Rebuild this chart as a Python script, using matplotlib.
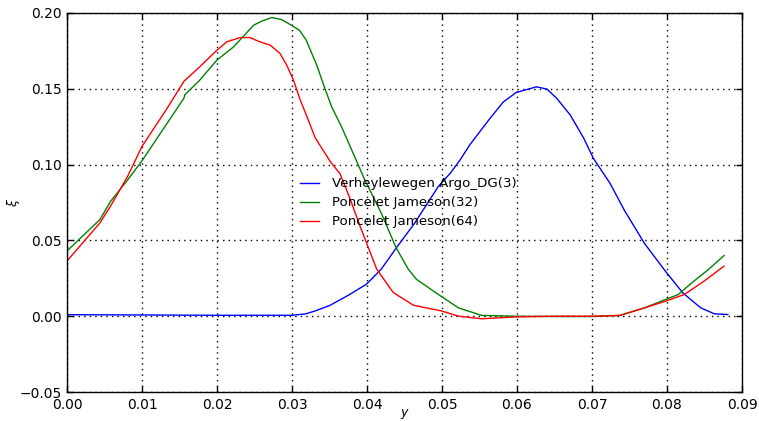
import matplotlib
matplotlib.use("Agg")
import matplotlib.pyplot as plt

# Verheylewegen Argo_DG(3)
blue_x = [0, 0.01, 0.02, 0.03, 0.0318, 0.0331, 0.035, 0.0375, 0.0399, 0.0419, 0.0439, 0.0463,
          0.0495, 0.0511, 0.0524, 0.0537, 0.0564, 0.0582, 0.0599, 0.0610, 0.0626, 0.0640,
          0.0653, 0.0671, 0.0689, 0.0702, 0.0724, 0.0743, 0.0770, 0.0798, 0.0821, 0.0845,
          0.0863, 0.0881]
blue_y = [0.001, 0.0008, 0.0006, 0.0006, 0.0015, 0.0035, 0.007, 0.0138, 0.021, 0.031, 0.045, 0.061,
          0.0855, 0.0943, 0.103, 0.113, 0.1305, 0.1414, 0.1476, 0.1491, 0.1513, 0.1498,
          0.1437, 0.1327, 0.1174, 0.104, 0.0877, 0.070, 0.048, 0.0296, 0.0154, 0.0055,
          0.0016, 0.0011]

# Poncelet Jameson(32)
green_x = [0, 0.0044, 0.0058, 0.0081, 0.01, 0.0156, 0.0157, 0.0177, 0.0200, 0.0222, 0.0249,
           0.0260, 0.0273, 0.0286, 0.0299, 0.0310, 0.0319, 0.0333, 0.0344, 0.0353, 0.0366,
           0.0397, 0.0419, 0.0439, 0.0455, 0.0466, 0.0498, 0.0522, 0.0553, 0.0597, 0.065,
           0.07, 0.0737, 0.077, 0.0798, 0.0815, 0.0833, 0.0855, 0.0876]
green_y = [0.043, 0.0638, 0.0757, 0.0900, 0.1025, 0.1439, 0.146, 0.1557, 0.169, 0.1776, 0.192,
           0.1947, 0.197, 0.1957, 0.192, 0.1886, 0.182, 0.1656, 0.150, 0.138, 0.125,
           0.090, 0.068, 0.045, 0.031, 0.0243, 0.0134, 0.0055, 0.0005, 0.0, -0.0002,
           -0.0002, 0.0005, 0.0055, 0.011, 0.0143, 0.022, 0.0307, 0.040]

# Poncelet Jameson(64)
red_x = [0, 0.0044, 0.0058, 0.0081, 0.01, 0.0132, 0.0156, 0.0177, 0.0200, 0.0213, 0.0231,
         0.0244, 0.0257, 0.0271, 0.0284, 0.0293, 0.0302, 0.0311, 0.0320, 0.0331, 0.0351,
         0.0364, 0.0377, 0.0391, 0.0413, 0.0435, 0.0462, 0.0499, 0.0522, 0.0553, 0.0597,
         0.065, 0.07, 0.0737, 0.077, 0.0798, 0.0823, 0.0849, 0.0876]
red_y = [0.0364, 0.0616, 0.0726, 0.0924, 0.112, 0.136, 0.155, 0.1645, 0.1755, 0.181, 0.1838,
         0.1838, 0.181, 0.1788, 0.1733, 0.1656, 0.1557, 0.1426, 0.1316, 0.1176, 0.102,
         0.094, 0.078, 0.059, 0.031, 0.0156, 0.0072, 0.0035, 0.0, -0.0017, -0.0005,
         0.0, 0.0, 0.0005, 0.0055, 0.0099, 0.0143, 0.023, 0.033]

labels = ["Verheylewegen Argo_DG(3)", "Poncelet Jameson(32)", "Poncelet Jameson(64)"]
xticks = [0.00, 0.01, 0.02, 0.03, 0.04, 0.05, 0.06, 0.07, 0.08, 0.09]
yticks = [-0.05, 0.00, 0.05, 0.10, 0.15, 0.20]

plt.rcParams['font.family'] = ['DejaVu Sans']
fig = plt.figure(figsize=(7.59, 4.21), dpi=100)
ax = fig.add_axes([67 / 759, 29 / 421, 675 / 759, 379 / 421])

ax.plot(blue_x, blue_y, color='#0000ff', lw=1.0, label=labels[0])
ax.plot(green_x, green_y, color='#008000', lw=1.0, label=labels[1])
ax.plot(red_x, red_y, color='#ff0000', lw=1.0, label=labels[2])

ax.set_xlim(0, 0.09)
ax.set_ylim(-0.05, 0.20)
ax.set_xticks(xticks)
ax.set_yticks(yticks)
ax.set_xticklabels([f"{v:.2f}" for v in xticks])
ax.set_yticklabels([f"{v:.2f}".replace('-', '\u2212') for v in yticks])
ax.tick_params(direction='in', top=True, right=True, length=4, width=1,
               labelsize=10, pad=4, colors='black')
ax.grid(True, color='black', linestyle=(0, (1, 3)), linewidth=1.0)
for s in ax.spines.values():
    s.set_linewidth(1.0)
    s.set_color('black')

ax.set_xlabel(r'$y$', fontsize=9)
ax.set_ylabel(r'$\xi$', fontsize=9)
ax.xaxis.set_label_coords(0.5, -0.040)
ax.yaxis.set_label_coords(-0.066, 0.5)

leg = ax.legend(loc='center', bbox_to_anchor=(0.506, 0.499), frameon=False,
                fontsize=9.6, handlelength=1.4, handletextpad=1.0, labelspacing=0.45)

fig.savefig('out.png', dpi=100, facecolor='white')
